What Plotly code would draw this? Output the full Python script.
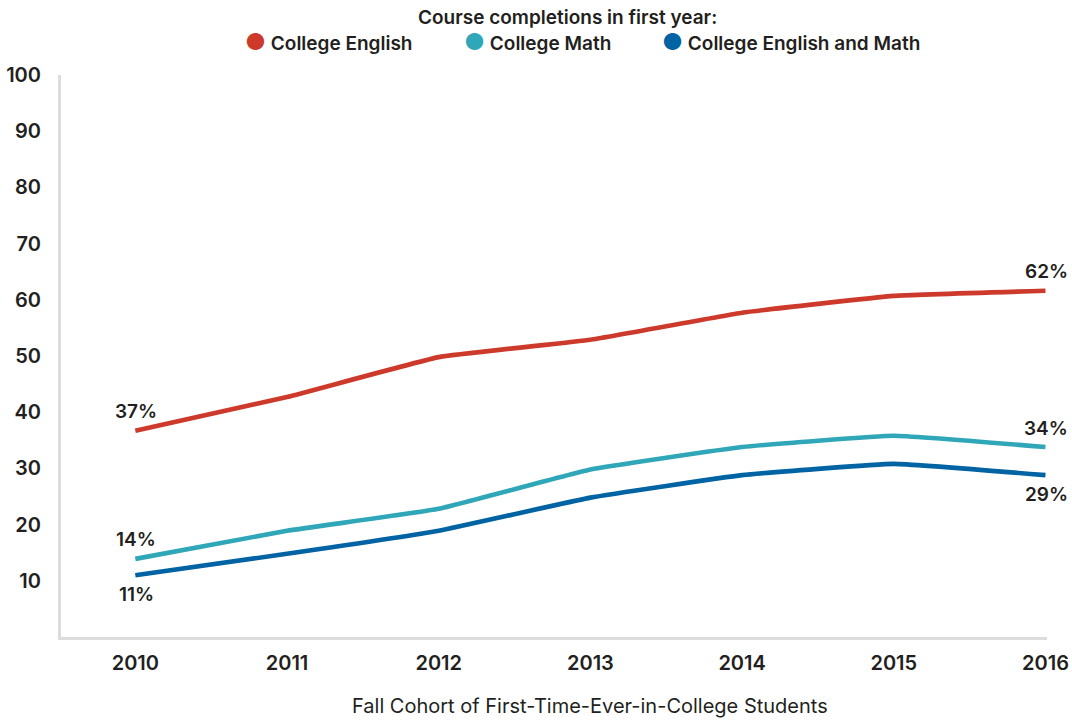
import plotly.graph_objects as go

years = [2010, 2011, 2012, 2013, 2014, 2015, 2016]
english = [36.7, 42.7, 49.8, 52.9, 57.7, 60.7, 61.6]
math = [13.9, 18.9, 22.8, 29.8, 33.8, 35.8, 33.8]
both = [11.0, 14.8, 18.9, 24.8, 28.8, 30.8, 28.8]
series_names = ["College English", "College Math", "College English and Math"]
colors = ["#CD3A2C", "#2FA7B8", "#0063A3"]
legend_title = "Course completions in first year:"
x_title = "Fall Cohort of First-Time-Ever-in-College Students"
y_ticks = [10, 20, 30, 40, 50, 60, 70, 80, 90, 100]

TEXT = "#231F20"
FONT = "Inter"

L, R, T, B = 61, 25, 75, 84
W, H = 1072, 721
PW = W - L - R
PH = H - T - B

fig = go.Figure()
label_shift = [19, 19, -19]
for name, vals, col, sh in zip(series_names, [english, math, both], colors, label_shift):
    fig.add_trace(go.Scatter(
        x=years, y=vals, mode="lines", name=name,
        line=dict(color=col, width=4.6, shape="spline", smoothing=0.3),
        showlegend=False, hoverinfo="skip",
    ))
    for i in (0, len(vals) - 1):
        fig.add_annotation(
            x=years[i], y=vals[i], text=f"{round(vals[i])}%", showarrow=False,
            yshift=sh, xshift=1, xanchor="center", yanchor="middle",
            font=dict(family=FONT, size=19, color=TEXT, weight=600),
        )

# legend (drawn as annotations)
fig.add_annotation(
    xref="paper", yref="paper", x=(567 - L) / PW, y=1 + (T - 17) / PH,
    text=legend_title, showarrow=False, xanchor="center", yanchor="middle",
    font=dict(family=FONT, size=19, color=TEXT, weight=600),
)
legend_x = [243, 462, 660]
for name, col, px in zip(series_names, colors, legend_x):
    fig.add_annotation(
        xref="paper", yref="paper", x=(px - L) / PW, y=1 + (T - 42) / PH,
        text=f"<span style='color:{col};font-size:23px'>●</span> {name}",
        showarrow=False, xanchor="left", yanchor="middle",
        font=dict(family=FONT, size=19, color=TEXT, weight=600),
    )

# x-axis title (offset to the right as in the reference)
fig.add_annotation(
    xref="paper", yref="paper", x=(590 - L) / PW, y=-(706 - (H - B)) / PH,
    text=x_title, showarrow=False, xanchor="center", yanchor="middle",
    font=dict(family=FONT, size=20, color=TEXT),
)

fig.update_layout(
    width=W, height=H,
    paper_bgcolor="white", plot_bgcolor="white",
    margin=dict(l=L, r=R, t=T, b=B),
    font=dict(family=FONT, color=TEXT),
    showlegend=False,
    xaxis=dict(
        range=[2009.51, 2016.01], tickmode="array", tickvals=years,
        ticktext=[str(y) for y in years],
        showgrid=False, zeroline=False, automargin=False,
        showline=True, linecolor="#DCDCDC", linewidth=3,
        ticks="", ticklabelstandoff=6,
        tickfont=dict(family=FONT, size=20, color=TEXT, weight=600),
    ),
    yaxis=dict(
        range=[0, 100], tickmode="array", tickvals=y_ticks,
        showgrid=False, zeroline=False, automargin=False,
        showline=True, linecolor="#DCDCDC", linewidth=3,
        ticks="", ticklabelstandoff=13,
        tickfont=dict(family=FONT, size=20, color=TEXT, weight=600),
    ),
)

fig.write_html(
    "out.html",
    config={"displayModeBar": False},
    post_script="document.body.style.margin='0';document.body.style.overflow='hidden';",
)
